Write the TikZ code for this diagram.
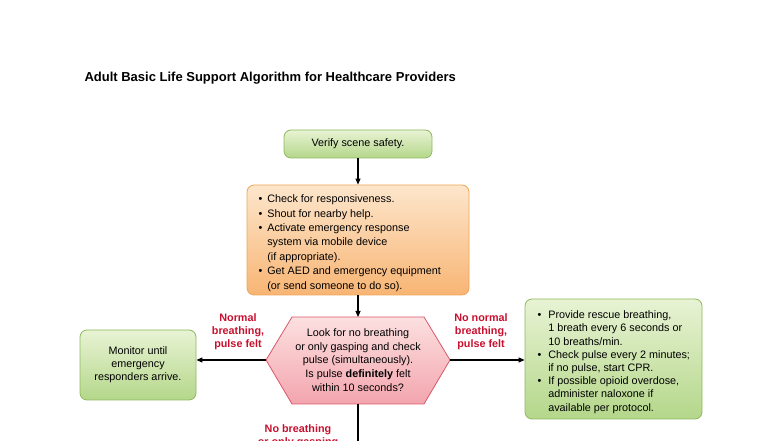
\documentclass[tikz,border=0pt]{standalone}
\usepackage{fontspec}
\setmainfont{Liberation Sans}
\usetikzlibrary{arrows.meta}
\definecolor{gbord}{HTML}{8DB85E}
\definecolor{gtop}{HTML}{E8F3D4}
\definecolor{gbot}{HTML}{B4D78A}
\definecolor{obord}{HTML}{EFA457}
\definecolor{otop}{HTML}{FDE6CC}
\definecolor{obot}{HTML}{F8B574}
\definecolor{pbord}{HTML}{D9576A}
\definecolor{ptop}{HTML}{FCE0E0}
\definecolor{pbot}{HTML}{F3A5AE}
\definecolor{lred}{HTML}{C8102E}
\tikzset{
 gbox/.style={draw=gbord,line width=0.8pt,rounded corners=7pt,top color=gtop,bottom color=gbot,align=center,font=\fontsize{10.8}{13}\selectfont,inner sep=0pt},
 obox/.style={draw=obord,line width=0.8pt,rounded corners=7pt,top color=otop,bottom color=obot,inner sep=0pt},
 lab/.style={text=lred,font=\bfseries\fontsize{10.8}{13}\selectfont,align=center},
 conn/.style={line width=1.1pt,-{Triangle[length=6pt,width=5pt]}}
}
\newcommand{\bl}[1]{\textbullet&#1\\}
\begin{document}
\begin{tikzpicture}[x=1pt,y=1pt]
\useasboundingbox (0,0) rectangle (784,441);
\clip (0,0) rectangle (784,441);
\node[anchor=west,font=\bfseries\fontsize{13}{15}\selectfont] (title) at (81,363) {Adult Basic Life Support Algorithm for Healthcare Providers};
\node[gbox,minimum width=148pt,minimum height=28pt] (verify) at (358,297) {Verify scene safety.};
\node[obox,minimum width=222pt,minimum height=110pt] (check) at (358,201) {};
\node[font=\fontsize{10.8}{14.4}\selectfont,anchor=north west] (checktxt) at (255,252) {\setlength{\tabcolsep}{0pt}\begin{tabular}{@{}l@{\hspace{5pt}}l@{}}
\bl{Check for responsiveness.}
\bl{Shout for nearby help.}
\bl{Activate emergency response}
&system via mobile device\\
&(if appropriate).\\
\bl{Get AED and emergency equipment}
&(or send someone to do so).
\end{tabular}};
% hexagon
\coordinate (hl) at (266,81);
\coordinate (hr) at (450,81);
\coordinate (ht) at (358,124);
\coordinate (hb) at (358,37);
\draw[draw=pbord,line width=0.8pt,top color=ptop,bottom color=pbot] (266,81) -- (292,124) -- (424,124) -- (450,81) -- (424,37) -- (292,37) -- cycle;
\node[align=center,font=\fontsize{10.8}{13.6}\selectfont] (hex) at (358,81) {Look for no breathing\\or only gasping and check\\pulse (simultaneously).\\Is pulse \textbf{definitely} felt\\within 10 seconds?};
\node[gbox,minimum width=116pt,minimum height=70pt] (monitor) at (138,76) {Monitor until\\emergency\\responders arrive.};
\node[gbox,minimum width=177pt,minimum height=120pt] (rescue) at (613.5,82) {};
\node[font=\fontsize{10.8}{13.2}\selectfont,anchor=north west] (rescuetxt) at (534,135) {\setlength{\tabcolsep}{0pt}\begin{tabular}{@{}l@{\hspace{7pt}}l@{}}
\bl{Provide rescue breathing,}
&1 breath every 6 seconds or\\
&10 breaths/min.\\
\bl{Check pulse every 2 minutes;}
&if no pulse, start CPR.\\
\bl{If possible opioid overdose,}
&administer naloxone if\\
&available per protocol.
\end{tabular}};
\node[lab] (l1) at (238,109) {Normal\\breathing,\\pulse felt};
\node[lab] (l2) at (481,109) {No normal\\breathing,\\pulse felt};
\node[lab,anchor=north] (l3) at (298,20) {No breathing\\or only gasping};
\coordinate (bot) at (358,0);
\draw[conn] (verify.south) -- (check.north);
\draw[conn] (check.south) -- (ht);
\draw[conn] (hl) -- (hl -| monitor.east);
\draw[conn] (hr) -- (hr -| rescue.west);
\draw[line width=1.1pt] (hb) -- (bot);
\end{tikzpicture}
\end{document}
